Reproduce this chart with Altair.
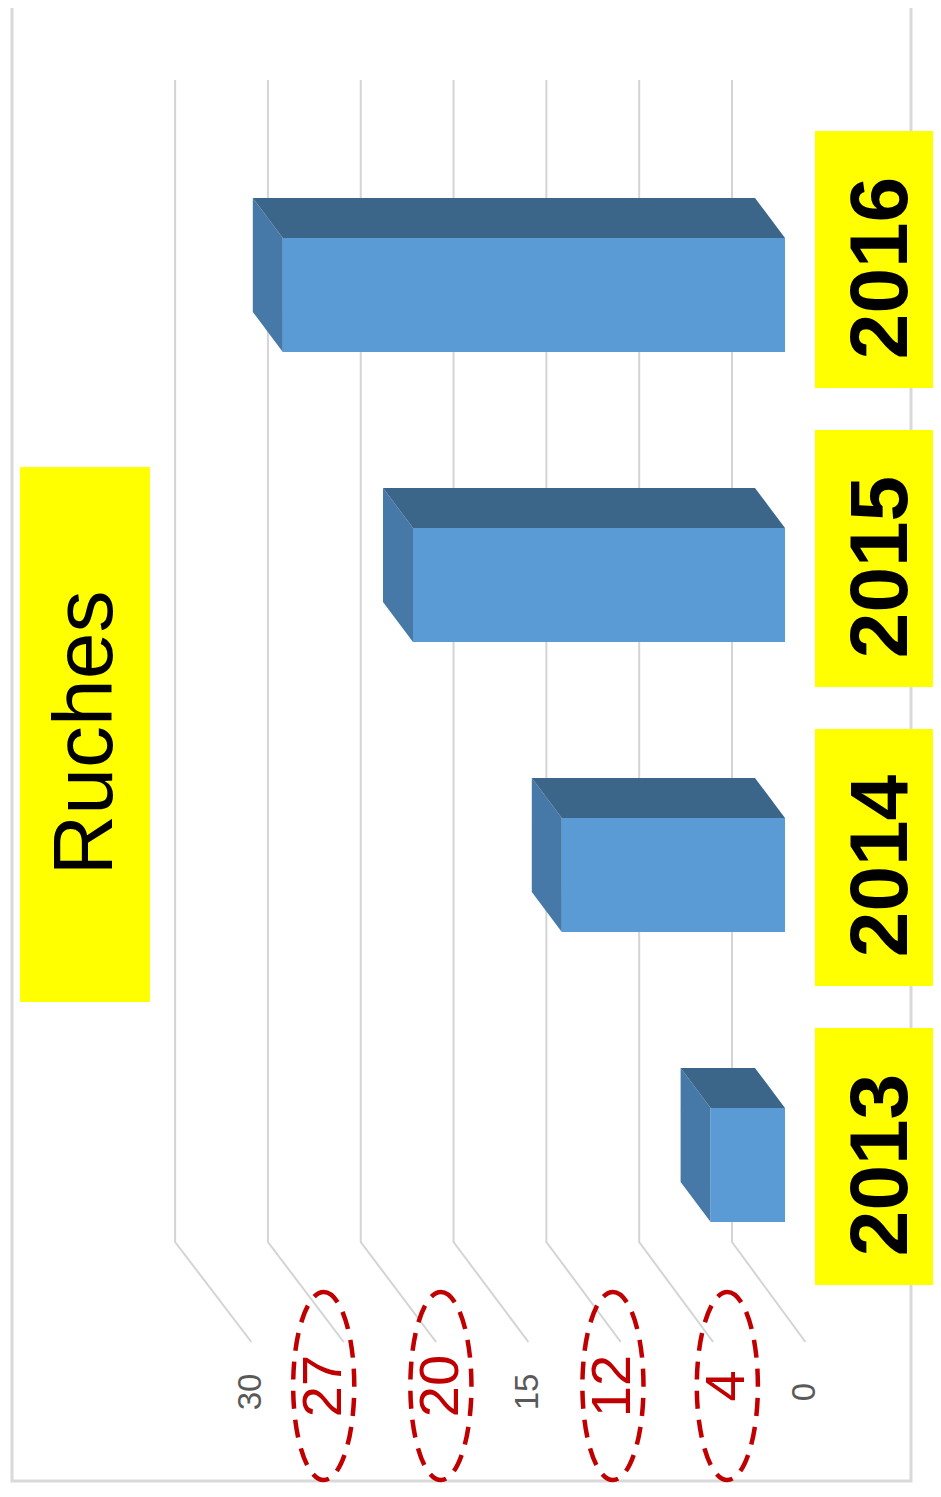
import altair as alt
import pandas as pd

# ---------------- data ----------------
years = ["2013", "2014", "2015", "2016"]
ruches = [4, 12, 20, 27]
ticks = [0, 5, 10, 15, 20, 25, 30]
covered_ticks = [25, 20, 10, 5]          # tick labels hidden under the circled notes
notes = ["27", "20", "12", "4"]
note_at = [24.8, 18.5, 9.25, 3.1]         # axis value where each circled note sits
title_text = "Ruches"

# ---------------- layout / style constants ----------------
W, H = 925, 1480
PX = 18.6            # px per value unit on the bars' front face
X0 = 777             # px position of value 0 (bars' front face)
Y0 = 1157            # px position of first category centre
STEP = 290           # px between categories (bars)
LABEL_STEP = 299     # px between categories (front-plane labels)

HALF = 57 / STEP     # half bar thickness
DX = 30 / PX         # bar depth, value units
DY = 40 / STEP       # bar depth, index units

GRID_TOP = (Y0 - 72) / STEP
GRID_CORNER = (Y0 - 1234) / STEP
GRID_END = (Y0 - 1334) / STEP
LABEL_Y = (Y0 - 1384) / STEP
NOTE_Y = (Y0 - 1378) / STEP
BACK_SHIFT = 2.85
FRONT_SCALE, FRONT_SHIFT = 0.993, -1.1

YEAR_X = (X0 - 874) / PX
BOX_X1 = (X0 - 807) / PX
BOX_X2 = (X0 - 960) / PX

xs = alt.Scale(domain=[(X0 - W) / PX, X0 / PX], reverse=True, nice=False, zero=False)
ys = alt.Scale(domain=[(Y0 - H) / STEP, Y0 / STEP], nice=False, zero=False)

def X(field):
    return alt.X(field, type="quantitative", scale=xs, axis=None)

def Y(field):
    return alt.Y(field, type="quantitative", scale=ys, axis=None)

# ---------------- tables ----------------
bars = pd.DataFrame({"year": years, "v": ruches, "i": range(len(years))})
bars["y"] = bars["i"] - HALF
bars["y2"] = bars["i"] + HALF
bars["z"] = 0.0

top_rows, side_rows = [], []
for yr, v, i in zip(years, ruches, range(len(years))):
    top_rows.append({"year": yr, "y": i + HALF, "x": v, "x2": 0.0})
    top_rows.append({"year": yr, "y": i + HALF + DY, "x": v + DX, "x2": DX})
    side_rows.append({"year": yr, "x": v, "y": i - HALF, "y2": i + HALF})
    side_rows.append({"year": yr, "x": v + DX, "y": i - HALF + DY, "y2": i + HALF + DY})
top = pd.DataFrame(top_rows)
side = pd.DataFrame(side_rows)

grid_rows = []
for t in ticks:
    back = t * 0.998 + BACK_SHIFT
    front = t * FRONT_SCALE + FRONT_SHIFT
    grid_rows += [
        {"t": t, "k": 0, "x": back, "y": GRID_TOP},
        {"t": t, "k": 1, "x": back, "y": GRID_CORNER},
        {"t": t, "k": 2, "x": front, "y": GRID_END},
    ]
grid = pd.DataFrame(grid_rows)

plain = [t for t in ticks if t not in covered_ticks]
tick_lab = pd.DataFrame({"label": [str(t) for t in plain],
                         "x": [t * FRONT_SCALE + FRONT_SHIFT for t in plain]})
tick_lab["y"] = LABEL_Y

note_df = pd.DataFrame({"label": notes, "x": note_at})
note_df["y"] = NOTE_Y

lab = pd.DataFrame({"year": years, "i": range(len(years))})
lab["y"] = lab["i"] * LABEL_STEP / STEP
lab["x"] = YEAR_X
lab["by"] = lab["y"] + 137 / STEP
lab["by2"] = lab["y"] - 120 / STEP
lab["bx"] = BOX_X1
lab["bx2"] = BOX_X2

one = pd.DataFrame({"a": [0]})

# ---------------- layers ----------------
frame = alt.Chart(one).mark_rect(fill=None, stroke="#D9D9D9", strokeWidth=3).encode(
    x=alt.value(4), x2=alt.value(903), y=alt.value(-20), y2=alt.value(1473))

grid_l = alt.Chart(grid).mark_line(color="#D4D4D4", strokeWidth=2).encode(
    x=X("x"), y=Y("y"), detail="t:N", order="k:Q")

side_l = alt.Chart(side).mark_area(orient="vertical", color="#4678A8").encode(
    x=X("x"), y=Y("y"), y2="y2", detail="year:N")

top_l = alt.Chart(top).mark_area(orient="horizontal", color="#3B6589").encode(
    y=Y("y"), x=X("x"), x2="x2", detail="year:N")

front_l = alt.Chart(bars).mark_rect(color="#5B9BD5").encode(
    x=X("v"), x2="z", y=Y("y"), y2="y2")

tick_t = alt.Chart(tick_lab).mark_text(
    angle=270, font="Liberation Sans", fontSize=33, color="#595959",
    align="center", baseline="middle").encode(x=X("x"), y=Y("y"), text="label:N")

a, k = 0.325, 0.5523
ka, kk = a * k, k
ell = (f"M0,-1 C{ka:.4f},-1 {a},{-kk:.4f} {a},0 C{a},{kk:.4f} {ka:.4f},1 0,1 "
       f"C{-ka:.4f},1 {-a},{kk:.4f} {-a},0 C{-a},{-kk:.4f} {-ka:.4f},-1 0,-1 Z")

ellipse_l = alt.Chart(note_df).mark_point(
    shape=ell, size=188 * 188, filled=False, opacity=1, stroke="#C00000",
    strokeWidth=4.5, strokeDash=[18, 11]).encode(x=X("x"), y=Y("y"))

note_t = alt.Chart(note_df).mark_text(
    angle=270, font="Liberation Sans", fontSize=56, color="#C00000",
    align="center", baseline="middle").encode(x=X("x"), y=Y("y"), text="label:N")

box_l = alt.Chart(lab).mark_rect(color="#FFFF00").encode(
    x=X("bx"), x2="bx2", y=Y("by"), y2="by2")

year_t = alt.Chart(lab).mark_text(
    angle=270, font="Liberation Sans", fontSize=82, fontWeight="bold", color="#000000",
    align="center", baseline="middle").encode(x=X("x"), y=Y("y"), text="year:N")

title_box = alt.Chart(one).mark_rect(color="#FFFF00").encode(
    x=alt.value(12), x2=alt.value(142), y=alt.value(459), y2=alt.value(994))

title_t = alt.Chart(one).mark_text(
    angle=270, font="Liberation Sans", fontSize=84, color="#000000",
    align="center", baseline="middle", text=title_text).encode(
    x=alt.value(79), y=alt.value(725))

chart = alt.layer(
    frame, grid_l, side_l, top_l, front_l, tick_t, ellipse_l, note_t,
    box_l, year_t, title_box, title_t
).properties(
    width=W, height=H, padding=0, autosize=alt.AutoSizeParams(type="none"),
    background="white"
).configure_view(stroke=None)

chart.save("out.html", embed_options={"renderer": "svg", "actions": False})
